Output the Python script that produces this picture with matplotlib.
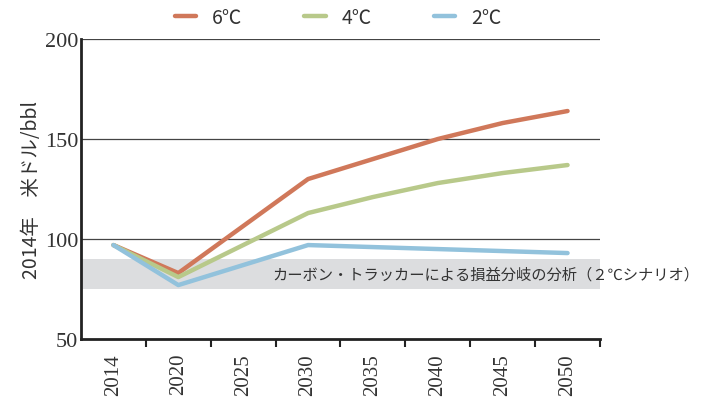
import numpy as np
import matplotlib.pyplot as plt

years = ['2014', '2020', '2025', '2030', '2035', '2040', '2045', '2050']
# no value for 2025 -> line goes straight from 2020 to 2030
t6 = [97, 83, np.nan, 130, 140, 150, 158, 164]
t4 = [97, 81, np.nan, 113, 121, 128, 133, 137]
t2 = [97, 77, np.nan, 97, 96, 95, 94, 93]
band_lo, band_hi = 75, 90
band_text = 'カーボン・トラッカーによる損益分岐の分析（２℃シナリオ）'

jp = ['Noto Sans CJK JP', 'DejaVu Sans']
num = ['Liberation Serif', 'DejaVu Serif']

fig = plt.figure(figsize=(7.13, 4.02), dpi=100)
ax = fig.add_axes([0.1136, 0.154, 0.7279, 0.7465])

x = np.arange(len(years))
for vals, col, lab in [(t6, '#d0785a', '6℃'), (t4, '#b8c98a', '4℃'), (t2, '#92c2dc', '2℃')]:
    v = np.array(vals, dtype=float)
    m = ~np.isnan(v)
    ax.plot(x[m], v[m], color=col, lw=3.2, label=lab, solid_capstyle='round')

ax.axhspan(band_lo, band_hi, color='#dcdddf', zorder=0, lw=0)
ax.text(2.45, 82.5, band_text, fontsize=11, family=jp, color='#333333', va='center')

ax.set_xlim(-0.5, 7.5)
ax.set_ylim(50, 200)
ax.set_yticks([50, 100, 150, 200])
ax.set_yticklabels(['50', '100', '150', '200'], fontsize=16, family=num, color='#333333')
for yv in [100, 150, 200]:
    ax.axhline(yv, color='#444444', lw=0.9, zorder=0.5)

ax.set_xticks(x)
ax.set_xticklabels(years, rotation=90, fontsize=15, family=num, color='#333333')
ax.tick_params(axis='x', which='major', length=0, pad=10)
ax.set_xticks(x + 0.5, minor=True)
ax.tick_params(axis='x', which='minor', length=6, width=1.5, direction='out', color='#222222')
ax.tick_params(axis='y', length=0, pad=2)

for s in ['top', 'right']:
    ax.spines[s].set_visible(False)
ax.spines['left'].set_linewidth(2)
ax.spines['bottom'].set_linewidth(2)
ax.spines['left'].set_color('#222222')
ax.spines['bottom'].set_color('#222222')

ax.set_ylabel('2014年　米ドル/bbl', fontsize=14, family=jp, color='#333333', labelpad=2)

h, l = ax.get_legend_handles_labels()
leg = fig.legend(h, l, loc='center', bbox_to_anchor=(0.474, 0.955), ncol=3, frameon=False,
                 prop={'family': jp, 'size': 14}, handlelength=1.1, handletextpad=0.8,
                 columnspacing=3.2)
for t in leg.get_texts():
    t.set_color('#333333')

fig.savefig('out.png', dpi=100)
